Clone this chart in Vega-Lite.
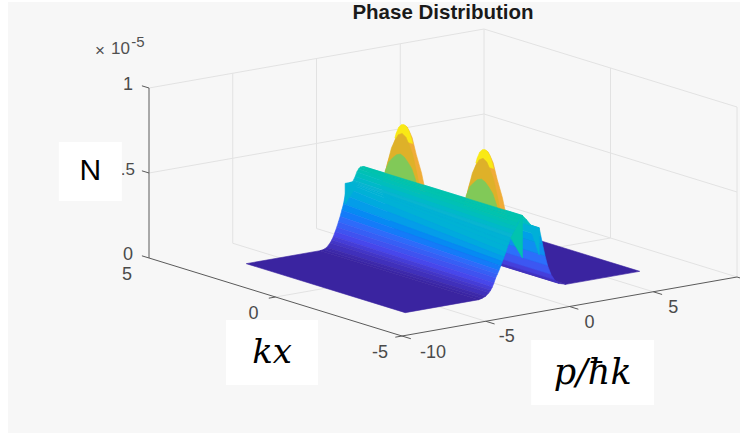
{"$schema":"https://vega.github.io/schema/vega-lite/v6.json","width":732,"height":431,"autosize":"none","padding":{"left":8,"top":2,"right":0,"bottom":0},"background":"#ffffff","config":{"view":{"fill":"#f7f7f7","stroke":null}},
"datasets":{
"surface":[
{"b":1,"k":3.14,"p":2.6,"N":0},{"b":1,"k":-3.14,"p":2.6,"N":0},{"b":1,"k":-3.14,"p":7,"N":0},{"b":1,"k":3.14,"p":7,"N":0},
{"b":2,"k":3.14,"p":2.6,"N":0},{"b":2,"k":-3.14,"p":2.6,"N":0},{"b":2,"k":-3.14,"p":2.2,"N":0.012},{"b":2,"k":3.14,"p":2.2,"N":0.012},
{"b":3,"k":3.14,"p":2.2,"N":0.012},{"b":3,"k":-3.14,"p":2.2,"N":0.012},{"b":3,"k":-3.14,"p":1.9,"N":0.04},{"b":3,"k":3.14,"p":1.9,"N":0.04},
{"b":4,"k":3.14,"p":1.9,"N":0.04},{"b":4,"k":-3.14,"p":1.9,"N":0.04},{"b":4,"k":-3.14,"p":1.7,"N":0.075},{"b":4,"k":3.14,"p":1.7,"N":0.075},
{"b":5,"k":3.14,"p":1.7,"N":0.075},{"b":5,"k":-3.14,"p":1.7,"N":0.075},{"b":5,"k":-3.14,"p":1.5,"N":0.13},{"b":5,"k":3.14,"p":1.5,"N":0.13},
{"b":6,"k":3.14,"p":1.5,"N":0.13},{"b":6,"k":-3.14,"p":1.5,"N":0.13},{"b":6,"k":-3.14,"p":1.35,"N":0.19},{"b":6,"k":3.14,"p":1.35,"N":0.19},
{"b":7,"k":3.14,"p":1.35,"N":0.19},{"b":7,"k":-3.14,"p":1.35,"N":0.19},{"b":7,"k":-3.14,"p":1.2,"N":0.26},{"b":7,"k":3.14,"p":1.2,"N":0.26},
{"b":8,"k":3.14,"p":1.2,"N":0.26},{"b":8,"k":-3.14,"p":1.2,"N":0.26},{"b":8,"k":-3.14,"p":1.1,"N":0.31},{"b":8,"k":3.14,"p":1.1,"N":0.31},
{"b":9,"k":3.14,"p":1.1,"N":0.31},{"b":9,"k":-3.14,"p":1.1,"N":0.31},{"b":9,"k":-3.14,"p":1,"N":0.36},{"b":9,"k":3.14,"p":1,"N":0.36},
{"b":10,"k":3.14,"p":1,"N":0.36},{"b":10,"k":-3.14,"p":1,"N":0.36},{"b":10,"k":-3.14,"p":0.75,"N":0.37},{"b":10,"k":3.14,"p":0.75,"N":0.37},
{"b":11,"k":3.14,"p":0.75,"N":0.37},{"b":11,"k":-3.14,"p":0.75,"N":0.37},{"b":11,"k":-3.14,"p":0.5,"N":0.385},{"b":11,"k":3.14,"p":0.5,"N":0.385},
{"b":12,"k":3.14,"p":0.5,"N":0.385},{"b":12,"k":-3.14,"p":0.5,"N":0.385},{"b":12,"k":-3.14,"p":0.25,"N":0.42},{"b":12,"k":3.14,"p":0.25,"N":0.42},
{"b":13,"k":3.14,"p":0.25,"N":0.42},{"b":13,"k":-3.14,"p":0.25,"N":0.42},{"b":13,"k":-3.14,"p":0,"N":0.45},{"b":13,"k":3.14,"p":0,"N":0.45},
{"b":44,"k":-3.14,"p":1,"N":0.36},{"b":44,"k":-3.14,"p":1,"N":0.2},{"b":44,"k":-3.14,"p":0.5,"N":0.36},
{"b":14,"k":2.6,"p":0.35,"N":0.38},{"b":14,"k":2.42,"p":0.35,"N":0.5},{"b":14,"k":2.21,"p":0.35,"N":0.6},{"b":14,"k":2.05,"p":0.35,"N":0.69},{"b":14,"k":1.95,"p":0.35,"N":0.72},{"b":14,"k":1.85,"p":0.35,"N":0.745},{"b":14,"k":1.75,"p":0.35,"N":0.75},{"b":14,"k":1.65,"p":0.35,"N":0.745},{"b":14,"k":1.55,"p":0.35,"N":0.72},{"b":14,"k":1.45,"p":0.35,"N":0.69},{"b":14,"k":1.29,"p":0.35,"N":0.6},{"b":14,"k":1.08,"p":0.35,"N":0.5},{"b":14,"k":0.9,"p":0.35,"N":0.38},
{"b":15,"k":-0.6,"p":0.35,"N":0.38},{"b":15,"k":-0.78,"p":0.35,"N":0.5},{"b":15,"k":-0.99,"p":0.35,"N":0.6},{"b":15,"k":-1.15,"p":0.35,"N":0.69},{"b":15,"k":-1.25,"p":0.35,"N":0.72},{"b":15,"k":-1.35,"p":0.35,"N":0.745},{"b":15,"k":-1.45,"p":0.35,"N":0.75},{"b":15,"k":-1.55,"p":0.35,"N":0.745},{"b":15,"k":-1.65,"p":0.35,"N":0.72},{"b":15,"k":-1.75,"p":0.35,"N":0.69},{"b":15,"k":-1.91,"p":0.35,"N":0.6},{"b":15,"k":-2.12,"p":0.35,"N":0.5},{"b":15,"k":-2.3,"p":0.35,"N":0.38},
{"b":47,"k":2.1,"p":0.3,"N":0.66},{"b":47,"k":2.05,"p":0.3,"N":0.69},{"b":47,"k":1.95,"p":0.3,"N":0.73},{"b":47,"k":1.85,"p":0.3,"N":0.75},{"b":47,"k":1.75,"p":0.3,"N":0.755},{"b":47,"k":1.65,"p":0.3,"N":0.75},{"b":47,"k":1.55,"p":0.3,"N":0.73},{"b":47,"k":1.45,"p":0.3,"N":0.69},{"b":47,"k":1.4,"p":0.3,"N":0.66},
{"b":48,"k":-1.1,"p":0.3,"N":0.66},{"b":48,"k":-1.15,"p":0.3,"N":0.69},{"b":48,"k":-1.25,"p":0.3,"N":0.73},{"b":48,"k":-1.35,"p":0.3,"N":0.75},{"b":48,"k":-1.45,"p":0.3,"N":0.755},{"b":48,"k":-1.55,"p":0.3,"N":0.75},{"b":48,"k":-1.65,"p":0.3,"N":0.73},{"b":48,"k":-1.75,"p":0.3,"N":0.69},{"b":48,"k":-1.8,"p":0.3,"N":0.66},
{"b":16,"k":2.5,"p":0.2,"N":0.38},{"b":16,"k":2.33,"p":0.2,"N":0.5},{"b":16,"k":2.17,"p":0.2,"N":0.6},{"b":16,"k":2.05,"p":0.2,"N":0.645},{"b":16,"k":1.9,"p":0.2,"N":0.69},{"b":16,"k":1.75,"p":0.2,"N":0.705},{"b":16,"k":1.6,"p":0.2,"N":0.69},{"b":16,"k":1.45,"p":0.2,"N":0.645},{"b":16,"k":1.33,"p":0.2,"N":0.6},{"b":16,"k":1.17,"p":0.2,"N":0.5},{"b":16,"k":1,"p":0.2,"N":0.38},
{"b":17,"k":-0.7,"p":0.2,"N":0.38},{"b":17,"k":-0.87,"p":0.2,"N":0.5},{"b":17,"k":-1.03,"p":0.2,"N":0.6},{"b":17,"k":-1.15,"p":0.2,"N":0.645},{"b":17,"k":-1.3,"p":0.2,"N":0.69},{"b":17,"k":-1.45,"p":0.2,"N":0.705},{"b":17,"k":-1.6,"p":0.2,"N":0.69},{"b":17,"k":-1.75,"p":0.2,"N":0.645},{"b":17,"k":-1.87,"p":0.2,"N":0.6},{"b":17,"k":-2.03,"p":0.2,"N":0.5},{"b":17,"k":-2.2,"p":0.2,"N":0.38},
{"b":18,"k":2.45,"p":0.1,"N":0.38},{"b":18,"k":2.35,"p":0.1,"N":0.46},{"b":18,"k":2.2,"p":0.1,"N":0.52},{"b":18,"k":2.05,"p":0.1,"N":0.55},{"b":18,"k":1.9,"p":0.1,"N":0.575},{"b":18,"k":1.75,"p":0.1,"N":0.585},{"b":18,"k":1.6,"p":0.1,"N":0.575},{"b":18,"k":1.45,"p":0.1,"N":0.55},{"b":18,"k":1.3,"p":0.1,"N":0.52},{"b":18,"k":1.15,"p":0.1,"N":0.46},{"b":18,"k":1.05,"p":0.1,"N":0.38},
{"b":19,"k":-0.75,"p":0.1,"N":0.38},{"b":19,"k":-0.85,"p":0.1,"N":0.46},{"b":19,"k":-1,"p":0.1,"N":0.52},{"b":19,"k":-1.15,"p":0.1,"N":0.55},{"b":19,"k":-1.3,"p":0.1,"N":0.575},{"b":19,"k":-1.45,"p":0.1,"N":0.585},{"b":19,"k":-1.6,"p":0.1,"N":0.575},{"b":19,"k":-1.75,"p":0.1,"N":0.55},{"b":19,"k":-1.9,"p":0.1,"N":0.52},{"b":19,"k":-2.05,"p":0.1,"N":0.46},{"b":19,"k":-2.15,"p":0.1,"N":0.38},
{"b":20,"k":3.14,"p":0,"N":0.45},{"b":20,"k":-3.14,"p":0,"N":0.45},{"b":20,"k":-3.14,"p":-0.1,"N":0.44},{"b":20,"k":3.14,"p":-0.1,"N":0.45},
{"b":21,"k":3.14,"p":-0.1,"N":0.45},{"b":21,"k":-3.14,"p":-0.1,"N":0.44},{"b":21,"k":-3.14,"p":-0.2,"N":0.43},{"b":21,"k":3.14,"p":-0.2,"N":0.45},
{"b":22,"k":3.14,"p":-0.2,"N":0.45},{"b":22,"k":-3.14,"p":-0.2,"N":0.43},{"b":22,"k":-3.14,"p":-0.3,"N":0.41},{"b":22,"k":3.14,"p":-0.3,"N":0.44},
{"b":23,"k":3.14,"p":-0.3,"N":0.44},{"b":23,"k":-3.14,"p":-0.3,"N":0.41},{"b":23,"k":-3.14,"p":-0.4,"N":0.39},{"b":23,"k":3.14,"p":-0.4,"N":0.425},
{"b":24,"k":3.14,"p":-0.4,"N":0.425},{"b":24,"k":-3.14,"p":-0.4,"N":0.39},{"b":24,"k":-3.14,"p":-0.5,"N":0.37},{"b":24,"k":3.14,"p":-0.5,"N":0.4},
{"b":25,"k":3.14,"p":-0.5,"N":0.4},{"b":25,"k":-3.14,"p":-0.5,"N":0.37},{"b":25,"k":-3.14,"p":-0.6,"N":0.35},{"b":25,"k":3.14,"p":-0.6,"N":0.38},
{"b":26,"k":3.14,"p":-0.6,"N":0.38},{"b":26,"k":-3.14,"p":-0.6,"N":0.35},{"b":26,"k":-3.14,"p":-0.7,"N":0.33},{"b":26,"k":3.14,"p":-0.7,"N":0.37},
{"b":27,"k":3.14,"p":-0.7,"N":0.37},{"b":27,"k":-3.14,"p":-0.7,"N":0.33},{"b":27,"k":-3.14,"p":-0.8,"N":0.305},{"b":27,"k":3.14,"p":-0.8,"N":0.37},
{"b":28,"k":3.14,"p":-0.8,"N":0.37},{"b":28,"k":-3.14,"p":-0.8,"N":0.305},{"b":28,"k":-3.14,"p":-0.9,"N":0.28},{"b":28,"k":3.14,"p":-0.9,"N":0.365},
{"b":29,"k":3.14,"p":-0.9,"N":0.365},{"b":29,"k":-3.14,"p":-0.9,"N":0.28},{"b":29,"k":-3.14,"p":-1,"N":0.25},{"b":29,"k":3.14,"p":-1,"N":0.34},
{"b":30,"k":3.14,"p":-1,"N":0.34},{"b":30,"k":-3.14,"p":-1,"N":0.25},{"b":30,"k":-3.14,"p":-1.1,"N":0.225},{"b":30,"k":3.14,"p":-1.1,"N":0.3},
{"b":31,"k":3.14,"p":-1.1,"N":0.3},{"b":31,"k":-3.14,"p":-1.1,"N":0.225},{"b":31,"k":-3.14,"p":-1.2,"N":0.2},{"b":31,"k":3.14,"p":-1.2,"N":0.25},
{"b":32,"k":3.14,"p":-1.2,"N":0.25},{"b":32,"k":-3.14,"p":-1.2,"N":0.2},{"b":32,"k":-3.14,"p":-1.3,"N":0.175},{"b":32,"k":3.14,"p":-1.3,"N":0.215},
{"b":33,"k":3.14,"p":-1.3,"N":0.215},{"b":33,"k":-3.14,"p":-1.3,"N":0.175},{"b":33,"k":-3.14,"p":-1.4,"N":0.15},{"b":33,"k":3.14,"p":-1.4,"N":0.18},
{"b":34,"k":3.14,"p":-1.4,"N":0.18},{"b":34,"k":-3.14,"p":-1.4,"N":0.15},{"b":34,"k":-3.14,"p":-1.5,"N":0.13},{"b":34,"k":3.14,"p":-1.5,"N":0.15},
{"b":35,"k":3.14,"p":-1.5,"N":0.15},{"b":35,"k":-3.14,"p":-1.5,"N":0.13},{"b":35,"k":-3.14,"p":-1.6,"N":0.11},{"b":35,"k":3.14,"p":-1.6,"N":0.12},
{"b":36,"k":3.14,"p":-1.6,"N":0.12},{"b":36,"k":-3.14,"p":-1.6,"N":0.11},{"b":36,"k":-3.14,"p":-1.7,"N":0.083},{"b":36,"k":3.14,"p":-1.7,"N":0.095},
{"b":37,"k":3.14,"p":-1.7,"N":0.095},{"b":37,"k":-3.14,"p":-1.7,"N":0.083},{"b":37,"k":-3.14,"p":-1.8,"N":0.06},{"b":37,"k":3.14,"p":-1.8,"N":0.07},
{"b":38,"k":3.14,"p":-1.8,"N":0.07},{"b":38,"k":-3.14,"p":-1.8,"N":0.06},{"b":38,"k":-3.14,"p":-1.9,"N":0.043},{"b":38,"k":3.14,"p":-1.9,"N":0.05},
{"b":39,"k":3.14,"p":-1.9,"N":0.05},{"b":39,"k":-3.14,"p":-1.9,"N":0.043},{"b":39,"k":-3.14,"p":-2,"N":0.03},{"b":39,"k":3.14,"p":-2,"N":0.035},
{"b":40,"k":3.14,"p":-2,"N":0.035},{"b":40,"k":-3.14,"p":-2,"N":0.03},{"b":40,"k":-3.14,"p":-2.2,"N":0.013},{"b":40,"k":3.14,"p":-2.2,"N":0.012},
{"b":41,"k":3.14,"p":-2.2,"N":0.012},{"b":41,"k":-3.14,"p":-2.2,"N":0.013},{"b":41,"k":-3.14,"p":-2.4,"N":0.005},{"b":41,"k":3.14,"p":-2.4,"N":0.003},
{"b":42,"k":3.14,"p":-2.4,"N":0.003},{"b":42,"k":-3.14,"p":-2.4,"N":0.005},{"b":42,"k":-3.14,"p":-2.6,"N":0},{"b":42,"k":3.14,"p":-2.6,"N":0},
{"b":45,"k":-3.14,"p":0,"N":0.45},{"b":45,"k":-3.14,"p":0,"N":0.2},{"b":45,"k":-3.14,"p":-0.7,"N":0.33},
{"b":46,"k":3.14,"p":-1.1,"N":0.37},{"b":46,"k":3.14,"p":-0.7,"N":0.37},{"b":46,"k":2.9,"p":-0.7,"N":0.37},{"b":46,"k":3.14,"p":-1.1,"N":0.25},
{"b":43,"k":3.14,"p":-2.6,"N":0},{"b":43,"k":-3.14,"p":-2.6,"N":0},{"b":43,"k":-3.14,"p":-7,"N":0},{"b":43,"k":3.14,"p":-7,"N":0}
],
"grid":[
{"g":"a","k":5,"p":-5,"N":0},{"g":"a","k":-5,"p":-5,"N":0},{"g":"b","k":5,"p":0,"N":0},{"g":"b","k":-5,"p":0,"N":0},{"g":"c","k":5,"p":5,"N":0},{"g":"c","k":-5,"p":5,"N":0},{"g":"d","k":5,"p":10,"N":0},{"g":"d","k":-5,"p":10,"N":0},{"g":"e","k":0,"p":-10,"N":0},{"g":"e","k":0,"p":10,"N":0},
{"g":"f","k":5,"p":-5,"N":0},{"g":"f","k":5,"p":-5,"N":1},{"g":"h","k":5,"p":0,"N":0},{"g":"h","k":5,"p":0,"N":1},{"g":"i","k":5,"p":5,"N":0},{"g":"i","k":5,"p":5,"N":1},{"g":"j","k":5,"p":10,"N":0},{"g":"j","k":5,"p":10,"N":1},
{"g":"l","k":5,"p":-10,"N":0.5},{"g":"l","k":5,"p":10,"N":0.5},{"g":"m","k":5,"p":-10,"N":1},{"g":"m","k":5,"p":10,"N":1},
{"g":"n","k":0,"p":10,"N":0},{"g":"n","k":0,"p":10,"N":1},{"g":"o","k":-5,"p":10,"N":0},{"g":"o","k":-5,"p":10,"N":1},{"g":"q","k":5,"p":10,"N":0.5},{"g":"q","k":-5,"p":10,"N":0.5},{"g":"r","k":5,"p":10,"N":1},{"g":"r","k":-5,"p":10,"N":1}
],
"axes":[
{"g":"z","k":5,"p":-10,"N":0},{"g":"z","k":5,"p":-10,"N":1},{"g":"x","k":5,"p":-10,"N":0},{"g":"x","k":-5,"p":-10,"N":0},{"g":"y","k":-5,"p":-10,"N":0},{"g":"y","k":-5,"p":10,"N":0},
{"g":"t1","k":5,"p":-10,"N":1},{"g":"t1","k":5.28,"p":-10,"N":1},{"g":"t2","k":5,"p":-10,"N":0.5},{"g":"t2","k":5.28,"p":-10,"N":0.5},{"g":"t3","k":5,"p":-10,"N":0},{"g":"t3","k":5.28,"p":-10,"N":0},
{"g":"t4","k":0,"p":-10,"N":0},{"g":"t4","k":0,"p":-10.4,"N":0},{"g":"t5","k":-5,"p":-10,"N":0},{"g":"t5","k":-5,"p":-10.4,"N":0},
{"g":"t6","k":-5,"p":-10,"N":0},{"g":"t6","k":-5.35,"p":-10,"N":0},{"g":"t7","k":-5,"p":-5,"N":0},{"g":"t7","k":-5.35,"p":-5,"N":0},{"g":"t8","k":-5,"p":0,"N":0},{"g":"t8","k":-5.35,"p":0,"N":0},{"g":"t9","k":-5,"p":5,"N":0},{"g":"t9","k":-5.35,"p":5,"N":0},{"g":"t10","k":-5,"p":10,"N":0},{"g":"t10","k":-5.35,"p":10,"N":0}
],
"zlab":[{"t":"1","k":5,"p":-10,"N":1},{"t":"0","k":5,"p":-10,"N":0}],
"zlab5":[{"t":"0.5","k":5,"p":-10,"N":0.5}],
"klab":[{"t":"5","k":5,"p":-10,"N":0},{"t":"0","k":0,"p":-10,"N":0},{"t":"-5","k":-5,"p":-10,"N":0}],
"plab":[{"t":"0","k":-5,"p":0,"N":0},{"t":"5","k":-5,"p":5,"N":0}],
"plab10":[{"t":"-10","k":-5,"p":-10,"N":0}],
"plab5":[{"t":"-5","k":-5,"p":-5,"N":0}],
"times":[{"t":"×","k":5,"p":-12.93,"N":1.268},{"t":"10","k":5,"p":-11.7,"N":1.259}],
"sup":[{"t":"-5","k":5,"p":-10.66,"N":1.282}],
"head":[{"t":"Phase Distribution","k":5,"p":7.55,"N":1.139}],
"boxN":[{"t":"N","k":5,"p":-13.5,"N":0.57}],
"boxK":[{"t":"kx","k":-4.48,"p":-16.97,"N":0}],
"boxP":[{"t":"p/ħk","k":-10.72,"p":-7.26,"N":0}]
},
"encoding":{"x":{"field":"sx","type":"quantitative","scale":{"domain":[8,740],"nice":false,"zero":false},"axis":null},"y":{"field":"sy","type":"quantitative","scale":{"domain":[433,2],"nice":false,"zero":false},"axis":null}},
"layer":[
{"data":{"name":"grid"},"transform":[{"calculate":"149+(5-datum.k)*25.3+(datum.p+10)*16.75","as":"sx"},{"calculate":"258+(5-datum.k)*7.8-(datum.p+10)*2.95-170*datum.N","as":"sy"}],"mark":{"type":"line","stroke":"#e2e2e2","strokeWidth":1},"encoding":{"detail":{"field":"g"},"order":{"value":null}}},
{"data":{"name":"axes"},"transform":[{"calculate":"149+(5-datum.k)*25.3+(datum.p+10)*16.75","as":"sx"},{"calculate":"258+(5-datum.k)*7.8-(datum.p+10)*2.95-170*datum.N","as":"sy"}],"mark":{"type":"line","stroke":"#5a5a5a","strokeWidth":1},"encoding":{"detail":{"field":"g"},"order":{"value":null}}},
{"data":{"name":"surface"},"transform":[{"calculate":"149+(5-datum.k)*25.3+(datum.p+10)*16.75","as":"sx"},{"calculate":"258+(5-datum.k)*7.8-(datum.p+10)*2.95-170*datum.N","as":"sy"},{"joinaggregate":[{"op":"max","field":"N","as":"top"}],"groupby":["b"]}],"mark":{"type":"line","interpolate":"linear-closed","strokeWidth":0.6},
"encoding":{"detail":{"field":"b"},"order":{"value":null},
"fill":{"field":"top","type":"quantitative","legend":null,"scale":{"domain":[0,0.095,0.19,0.285,0.38,0.475,0.57,0.71,0.75,0.755],"range":["#3a24a0","#4747eb","#2c6ffb","#2797eb","#08b5d0","#31c69f","#74cb62","#e2b02a","#f0ac38","#f9e915"]}},
"stroke":{"field":"top","type":"quantitative","legend":null,"scale":{"domain":[0,0.095,0.19,0.285,0.38,0.475,0.57,0.71,0.75,0.755],"range":["#3a24a0","#4747eb","#2c6ffb","#2797eb","#08b5d0","#31c69f","#74cb62","#e2b02a","#f0ac38","#f9e915"]}}}},
{"data":{"name":"zlab"},"transform":[{"calculate":"149+(5-datum.k)*25.3+(datum.p+10)*16.75","as":"sx"},{"calculate":"258+(5-datum.k)*7.8-(datum.p+10)*2.95-170*datum.N","as":"sy"}],"mark":{"type":"text","align":"right","baseline":"middle","dx":-16,"dy":-3,"font":"Liberation Sans","fontSize":18,"fill":"#4a4a4a"},"encoding":{"text":{"field":"t"}}},
{"data":{"name":"zlab5"},"transform":[{"calculate":"149+(5-datum.k)*25.3+(datum.p+10)*16.75","as":"sx"},{"calculate":"258+(5-datum.k)*7.8-(datum.p+10)*2.95-170*datum.N","as":"sy"}],"mark":{"type":"text","align":"right","baseline":"middle","dx":-14,"dy":-3,"font":"Liberation Sans","fontSize":17,"fill":"#4a4a4a"},"encoding":{"text":{"field":"t"}}},
{"data":{"name":"klab"},"transform":[{"calculate":"149+(5-datum.k)*25.3+(datum.p+10)*16.75","as":"sx"},{"calculate":"258+(5-datum.k)*7.8-(datum.p+10)*2.95-170*datum.N","as":"sy"}],"mark":{"type":"text","align":"center","baseline":"middle","dx":-22,"dy":17,"font":"Liberation Sans","fontSize":18,"fill":"#4a4a4a"},"encoding":{"text":{"field":"t"}}},
{"data":{"name":"plab"},"transform":[{"calculate":"149+(5-datum.k)*25.3+(datum.p+10)*16.75","as":"sx"},{"calculate":"258+(5-datum.k)*7.8-(datum.p+10)*2.95-170*datum.N","as":"sy"}],"mark":{"type":"text","align":"left","baseline":"middle","dx":15,"dy":16,"font":"Liberation Sans","fontSize":18,"fill":"#4a4a4a"},"encoding":{"text":{"field":"t"}}},
{"data":{"name":"plab10"},"transform":[{"calculate":"149+(5-datum.k)*25.3+(datum.p+10)*16.75","as":"sx"},{"calculate":"258+(5-datum.k)*7.8-(datum.p+10)*2.95-170*datum.N","as":"sy"}],"mark":{"type":"text","align":"left","baseline":"middle","dx":18,"dy":17,"font":"Liberation Sans","fontSize":18,"fill":"#4a4a4a"},"encoding":{"text":{"field":"t"}}},
{"data":{"name":"plab5"},"transform":[{"calculate":"149+(5-datum.k)*25.3+(datum.p+10)*16.75","as":"sx"},{"calculate":"258+(5-datum.k)*7.8-(datum.p+10)*2.95-170*datum.N","as":"sy"}],"mark":{"type":"text","align":"left","baseline":"middle","dx":13,"dy":16,"font":"Liberation Sans","fontSize":18,"fill":"#4a4a4a"},"encoding":{"text":{"field":"t"}}},
{"data":{"name":"times"},"transform":[{"calculate":"149+(5-datum.k)*25.3+(datum.p+10)*16.75","as":"sx"},{"calculate":"258+(5-datum.k)*7.8-(datum.p+10)*2.95-170*datum.N","as":"sy"}],"mark":{"type":"text","align":"center","baseline":"middle","font":"Liberation Sans","fontSize":17,"fill":"#505050"},"encoding":{"text":{"field":"t"}}},
{"data":{"name":"sup"},"transform":[{"calculate":"149+(5-datum.k)*25.3+(datum.p+10)*16.75","as":"sx"},{"calculate":"258+(5-datum.k)*7.8-(datum.p+10)*2.95-170*datum.N","as":"sy"}],"mark":{"type":"text","align":"center","baseline":"middle","font":"Liberation Sans","fontSize":15,"fill":"#505050"},"encoding":{"text":{"field":"t"}}},
{"data":{"name":"head"},"transform":[{"calculate":"149+(5-datum.k)*25.3+(datum.p+10)*16.75","as":"sx"},{"calculate":"258+(5-datum.k)*7.8-(datum.p+10)*2.95-170*datum.N","as":"sy"}],"mark":{"type":"text","align":"center","baseline":"middle","font":"Liberation Sans","fontSize":20.5,"fontWeight":"bold","fill":"#1a1a1a"},"encoding":{"text":{"field":"t"}}},
{"data":{"name":"boxN"},"transform":[{"calculate":"149+(5-datum.k)*25.3+(datum.p+10)*16.75","as":"sx"},{"calculate":"258+(5-datum.k)*7.8-(datum.p+10)*2.95-170*datum.N","as":"sy"}],"mark":{"type":"rect","width":63,"height":59,"fill":"#ffffff"}},
{"data":{"name":"boxK"},"transform":[{"calculate":"149+(5-datum.k)*25.3+(datum.p+10)*16.75","as":"sx"},{"calculate":"258+(5-datum.k)*7.8-(datum.p+10)*2.95-170*datum.N","as":"sy"}],"mark":{"type":"rect","width":92,"height":65,"fill":"#ffffff"}},
{"data":{"name":"boxP"},"transform":[{"calculate":"149+(5-datum.k)*25.3+(datum.p+10)*16.75","as":"sx"},{"calculate":"258+(5-datum.k)*7.8-(datum.p+10)*2.95-170*datum.N","as":"sy"}],"mark":{"type":"rect","width":123,"height":65,"fill":"#ffffff"}},
{"data":{"name":"boxN"},"transform":[{"calculate":"149+(5-datum.k)*25.3+(datum.p+10)*16.75","as":"sx"},{"calculate":"258+(5-datum.k)*7.8-(datum.p+10)*2.95-170*datum.N","as":"sy"}],"mark":{"type":"text","align":"center","baseline":"middle","font":"Liberation Sans","fontSize":30,"fill":"#000000"},"encoding":{"text":{"field":"t"}}},
{"data":{"name":"boxK"},"transform":[{"calculate":"149+(5-datum.k)*25.3+(datum.p+10)*16.75","as":"sx"},{"calculate":"258+(5-datum.k)*7.8-(datum.p+10)*2.95-170*datum.N","as":"sy"}],"mark":{"type":"text","align":"center","baseline":"middle","font":"DejaVu Serif","fontStyle":"italic","fontSize":34,"fill":"#000000"},"encoding":{"text":{"field":"t"}}},
{"data":{"name":"boxP"},"transform":[{"calculate":"149+(5-datum.k)*25.3+(datum.p+10)*16.75","as":"sx"},{"calculate":"258+(5-datum.k)*7.8-(datum.p+10)*2.95-170*datum.N","as":"sy"}],"mark":{"type":"text","align":"center","baseline":"middle","font":"DejaVu Serif","fontStyle":"italic","fontSize":35,"fill":"#000000"},"encoding":{"text":{"field":"t"}}}
]}
